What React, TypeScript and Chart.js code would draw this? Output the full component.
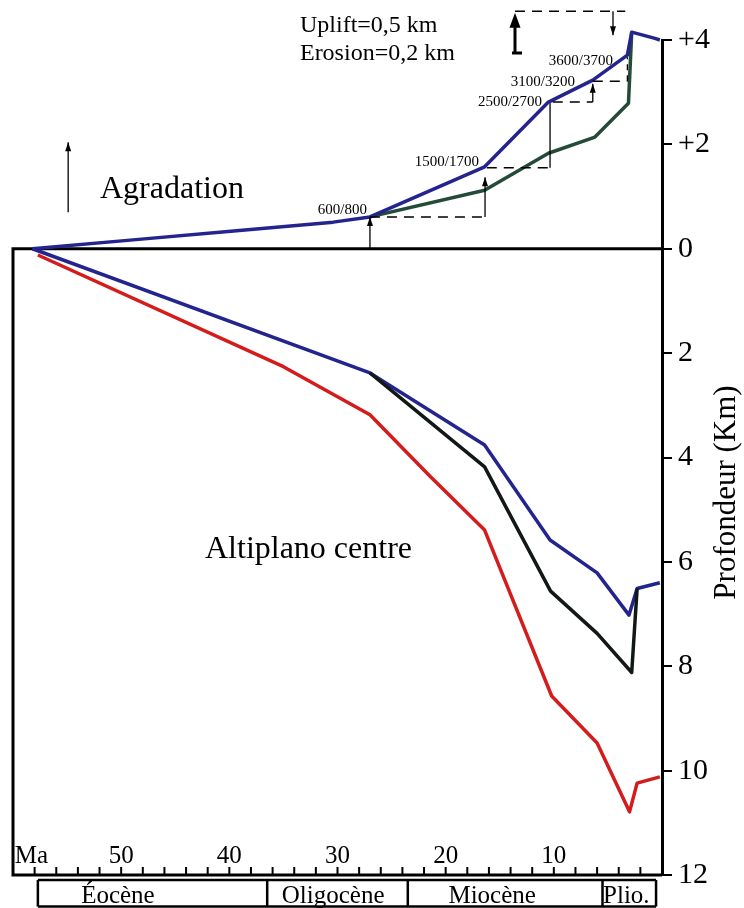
import React, { useEffect, useRef } from 'react';
import { Chart, registerables } from 'chart.js';

Chart.register(...registerables);

const SERIF = '"Liberation Serif", "DejaVu Serif", serif';

// ---- Data (x = age in Ma, y = km; positive = elevation, negative = depth) ----
const upperBlueMa = [58.2, 48.9, 39.6, 30.4, 27.0, 16.4, 10.5, 6.4, 3.2, 2.8, 0.65, 0.2];
const upperBlueKm = [0, 0.17, 0.34, 0.51, 0.61, 1.57, 2.81, 3.23, 3.71, 4.15, 4.03, 4.0];

const upperGreenMa = [27.0, 16.4, 10.5, 6.2, 3.1, 2.8];
const upperGreenKm = [0.61, 1.12, 1.83, 2.14, 2.79, 4.15];

const lowerBlueMa = [58.2, 27.0, 16.4, 10.35, 6.0, 3.05, 2.3, 0.2];
const lowerBlueKm = [0, -2.38, -3.76, -5.58, -6.21, -7.02, -6.51, -6.4];

const blackMa = [27.0, 16.4, 10.3, 6.0, 2.8, 2.3];
const blackKm = [-2.38, -4.18, -6.56, -7.37, -8.12, -6.51];

const redMa = [57.7, 35.0, 27.0, 21.4, 16.4, 10.2, 6.0, 3.0, 2.3, 0.2];
const redKm = [-0.12, -2.26, -3.18, -4.37, -5.39, -8.57, -9.47, -10.79, -10.24, -10.12];

// ---- Axis / labels ----
const xMin = 0;
const xMax = 60;
const yMin = -12;
const yMax = 4;
const yStep = 2;
const xMajorLabels = [50, 40, 30, 20, 10];
const xUnitLabel = 'Ma';
const xUnitAt = 58.3;
const xMinorTicks = [2, 4, 6, 8, 10, 12, 14, 16, 18, 20, 22, 24, 26, 28, 30, 32, 34, 36, 38, 40, 42, 44, 46, 48, 50, 52, 54, 56, 58];
const yTitle = 'Profondeur (Km)';

const epochNames = ['Éocène', 'Oligocène', 'Miocène', 'Plio.'];
const epochBounds = [57.7, 36.5, 23.5, 5.5, 0.55];
const epochLabelMa = [50.3, 30.4, 15.7, 3.3];

// guide lines (Ma from, Ma to, km)
const dashedH = [
  [27.0, 16.5, 0.61],
  [16.2, 10.35, 1.55],
  [10.1, 6.4, 2.81],
  [6.4, 3.2, 3.21],
  [13.59, 3.4, 4.55],
];
// vertical guides: Ma, km from, km to, head ('up'|'down'|''), dashed
const vGuides: [number, number, number, string, boolean][] = [
  [27.0, 0, 0.61, 'up', false],
  [16.36, 0.61, 1.37, 'up', false],
  [10.35, 1.55, 2.79, '', false],
  [6.4, 2.81, 3.16, 'up', false],
  [3.2, 3.21, 3.67, '', true],
  [4.53, 4.55, 4.09, 'down', false],
  [54.9, 0.7, 2.04, 'up', false],
];

const stepLabels = ['600/800', '1500/1700', '2500/2700', '3100/3200', '3600/3700'];
const stepLabelMa = [27.27, 16.92, 11.09, 8.04, 4.53];
const stepLabelKm = [0.665, 1.585, 2.73, 3.12, 3.52];

const noteLines = ['Uplift=0,5 km', 'Erosion=0,2 km'];
const noteMa = 33.47;
const noteKm = [4.15, 3.62];

const pts = (xs: number[], ys: number[]) => xs.map((x, i) => ({ x, y: ys[i] }));

// dir: 1 = pointing up, -1 = pointing down; tip at (x, y)
function head(ctx: CanvasRenderingContext2D, x: number, y: number, dir: number, w: number, h: number) {
  ctx.beginPath();
  ctx.moveTo(x, y);
  ctx.lineTo(x - w / 2, y + dir * h);
  ctx.lineTo(x + w / 2, y + dir * h);
  ctx.closePath();
  ctx.fill();
}

const framePlugin = {
  id: 'frame',
  beforeDatasetsDraw(chart: any) {
    const { ctx, scales } = chart;
    const X = (v: number) => scales.x.getPixelForValue(v);
    const Y = (v: number) => scales.y.getPixelForValue(v);
    ctx.save();
    ctx.strokeStyle = '#000';
    ctx.lineWidth = 3;
    ctx.beginPath();
    ctx.moveTo(X(xMax), Y(0));
    ctx.lineTo(X(xMin), Y(0));
    ctx.moveTo(X(xMax), Y(0) - 1.5);
    ctx.lineTo(X(xMax), Y(yMin));
    ctx.lineTo(X(xMin), Y(yMin));
    ctx.stroke();
    ctx.restore();
  },
  afterDatasetsDraw(chart: any) {
    const { ctx, scales } = chart;
    const X = (v: number) => scales.x.getPixelForValue(v);
    const Y = (v: number) => scales.y.getPixelForValue(v);
    const bottom = Y(yMin);
    ctx.save();
    ctx.fillStyle = '#000';
    ctx.strokeStyle = '#000';

    // bottom minor ticks (inside)
    ctx.lineWidth = 2;
    ctx.beginPath();
    xMinorTicks.forEach((v) => {
      ctx.moveTo(X(v), bottom);
      ctx.lineTo(X(v), bottom - 8);
    });
    ctx.stroke();

    // bottom labels
    ctx.font = `25px ${SERIF}`;
    ctx.textAlign = 'center';
    ctx.textBaseline = 'alphabetic';
    xMajorLabels.forEach((v) => ctx.fillText(String(v), X(v), bottom - 12));
    ctx.fillText(xUnitLabel, X(xUnitAt), bottom - 12);

    // epoch boxes
    const top = bottom + 5;
    const bot = chart.height - 1.5;
    ctx.lineWidth = 2.5;
    ctx.beginPath();
    ctx.moveTo(X(epochBounds[0]), top);
    ctx.lineTo(X(epochBounds[epochBounds.length - 1]), top);
    ctx.moveTo(X(epochBounds[0]), bot);
    ctx.lineTo(X(epochBounds[epochBounds.length - 1]), bot);
    epochBounds.forEach((b) => {
      ctx.moveTo(X(b), top);
      ctx.lineTo(X(b), bot);
    });
    ctx.stroke();
    ctx.font = `25px ${SERIF}`;
    epochNames.forEach((n, i) => ctx.fillText(n, X(epochLabelMa[i]), chart.height - 5));

    // guides
    ctx.lineWidth = 1.5;
    ctx.setLineDash([10, 7]);
    ctx.beginPath();
    dashedH.forEach(([a, b, k]) => {
      ctx.moveTo(X(a), Y(k));
      ctx.lineTo(X(b), Y(k));
    });
    ctx.stroke();
    ctx.setLineDash([]);
    vGuides.forEach(([m, k0, k1, hd, dashed]) => {
      ctx.setLineDash(dashed ? [6, 5] : []);
      ctx.lineWidth = 1.3;
      ctx.beginPath();
      ctx.moveTo(X(m), Y(k0));
      ctx.lineTo(X(m), Y(k1));
      ctx.stroke();
      ctx.setLineDash([]);
      if (hd === 'up') head(ctx, X(m), Y(k1), 1, 6, 9);
      if (hd === 'down') head(ctx, X(m), Y(k1), -1, 6, 9);
    });
    // big uplift arrow
    {
      const m = 13.59;
      ctx.lineWidth = 3;
      ctx.beginPath();
      ctx.moveTo(X(m), Y(3.75));
      ctx.lineTo(X(m), Y(4.3));
      ctx.moveTo(X(13.87), Y(3.75));
      ctx.lineTo(X(12.94), Y(3.75));
      ctx.stroke();
      head(ctx, X(m), Y(4.52), 1, 11, 15);
    }

    // step labels
    ctx.font = `15px ${SERIF}`;
    ctx.textAlign = 'right';
    stepLabels.forEach((s, i) => ctx.fillText(s, X(stepLabelMa[i]), Y(stepLabelKm[i])));

    // notes
    ctx.textAlign = 'left';
    ctx.font = `24px ${SERIF}`;
    noteLines.forEach((s, i) => ctx.fillText(s, X(noteMa), Y(noteKm[i])));
    ctx.font = `32px ${SERIF}`;
    ctx.fillText('Agradation', X(51.96), Y(0.97));
    ctx.fillText('Altiplano centre', X(42.25), Y(-5.93));

    // y title
    ctx.save();
    ctx.translate(727, (Y(yMin) + Y(yMax)) / 2 + 35);
    ctx.rotate(-Math.PI / 2);
    ctx.textAlign = 'center';
    ctx.textBaseline = 'middle';
    ctx.font = `31px ${SERIF}`;
    ctx.fillText(yTitle, 0, 0);
    ctx.restore();

    ctx.restore();
  },
};

export default function App() {
  const ref = useRef<HTMLCanvasElement | null>(null);
  useEffect(() => {
    document.body.style.margin = '0';
    const canvas = ref.current;
    if (!canvas) return;
    const line = (data: any[], color: string) => ({
      data,
      borderColor: color,
      backgroundColor: color,
      borderWidth: 3.5,
      pointRadius: 0,
      showLine: true,
      fill: false,
      tension: 0,
      clip: false as any,
      borderJoinStyle: 'round' as const,
    });
    const chart = new Chart(canvas, {
      type: 'scatter',
      data: {
        datasets: [
          line(pts(upperBlueMa, upperBlueKm), '#24248e'),
          line(pts(upperGreenMa, upperGreenKm), '#244a38'),
          line(pts(blackMa, blackKm), '#121816'),
          line(pts(lowerBlueMa, lowerBlueKm), '#24248e'),
          line(pts(redMa, redKm), '#d41c1c'),
        ],
      },
      options: {
        animation: false,
        responsive: false,
        devicePixelRatio: 1,
        events: [],
        layout: { padding: { left: 13, top: 40, right: 0, bottom: 33 } },
        plugins: { legend: { display: false }, tooltip: { enabled: false } },
        scales: {
          x: { type: 'linear', min: xMin, max: xMax, reverse: true, display: false },
          y: {
            type: 'linear',
            position: 'right',
            min: yMin,
            max: yMax,
            afterFit: (s: any) => {
              s.width = 82;
            },
            ticks: {
              stepSize: yStep,
              padding: 6,
              color: '#000',
              font: { family: SERIF, size: 30 },
              callback: (v: any) => (Number(v) > 0 ? '+' + v : String(Math.abs(Number(v)))),
            },
            grid: { drawOnChartArea: false, drawTicks: true, tickLength: 10, color: '#000', lineWidth: 2 },
            border: { display: true, color: '#000', width: 3 },
          },
        },
      },
      plugins: [framePlugin],
    });
    return () => chart.destroy();
  }, []);
  return (
    <div style={{ width: 744, height: 908, position: 'relative', background: '#fff' }}>
      <canvas ref={ref} width={744} height={908} style={{ display: 'block' }} />
    </div>
  );
}
